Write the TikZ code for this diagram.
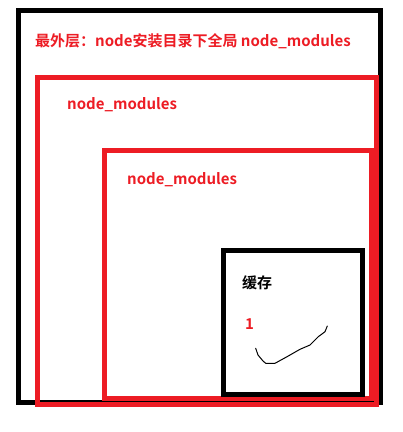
\documentclass[tikz,border=0pt]{standalone}
\usepackage{fontspec}
\newfontfamily\cjk{Noto Sans CJK SC}[BoldFont={Noto Sans CJK SC Bold}]
\definecolor{pred}{HTML}{ED1C24}
\begin{document}
\begin{tikzpicture}[x=1pt,y=-1pt,
  box/.style={line width=5pt,line join=miter},
  lbl/.style={inner sep=0pt,anchor=base west,font=\cjk\bfseries\fontsize{15}{18}\selectfont}]
\useasboundingbox[fill=white] (0,0) rectangle (403,432);
\draw[box,black] (18.5,10.5) rectangle (380.5,402) coordinate (outerbr);
\draw[box,pred] (37.5,77.5) rectangle (376.5,404.5) coordinate (midbr);
\draw[box,pred] (104.5,150.5) rectangle (371,398.5) coordinate (innerbr);
\draw[box,black] (223.5,250.5) rectangle (362.5,394) coordinate (cachebr);
\node[lbl,text=pred] (t1) at (35,46) {最外层：node安装目录下全局 node\_modules};
\node[lbl,text=pred] (t2) at (67,109) {node\_modules};
\node[lbl,text=pred] (t3) at (127,184) {node\_modules};
\node[lbl,text=black] (t4) at (242,288) {缓存};
\node[lbl,text=pred] (t5) at (245,329) {1};
\draw[line width=1pt,black,line join=round,line cap=round]
  (255.7,348.3) -- (258,355) -- (263,361) -- (265.7,363.3) -- (275,363.3)
  -- (288.3,356) -- (300,349.3) -- (310,345) -- (318.3,336.7) -- (325,331.7) -- (327.3,326);
\end{tikzpicture}
\end{document}
